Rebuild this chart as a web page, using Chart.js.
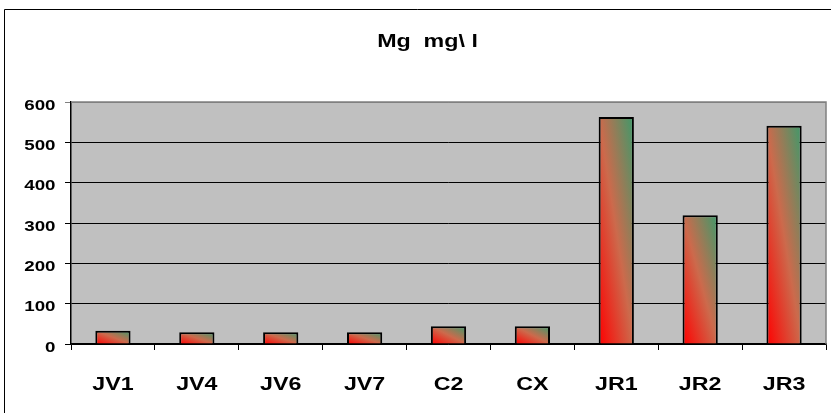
<!DOCTYPE html>
<html>
<head>
<meta charset="utf-8">
<script src="https://cdn.jsdelivr.net/npm/chart.js@4/dist/chart.umd.min.js"></script>
<style>
  html, body { margin: 0; padding: 0; background: #ffffff; }
  #wrap { width: 831px; height: 413px; }
</style>
</head>
<body>
<div id="wrap"><canvas id="c" width="831" height="413"></canvas></div>
<script>
// Magnesium concentration per sampling point
const categories = ['JV1', 'JV4', 'JV6', 'JV7', 'C2', 'CX', 'JR1', 'JR2', 'JR3'];
const mgValues = [33, 29, 29, 29, 44, 44, 563, 319, 541];
const yTickMax = 600;
const yTickStep = 100;
const chartTitle = 'Mg  mg\\ l';

const FONT = '"Liberation Sans", Arial, sans-serif';
const BAR_PCT = 0.42;
const STRETCH = 1.25; // wide lettering used for all chart text

// Diagonal red-to-green fill for each bar, bottom-left to top-right
function barGradient(ctx) {
  const chart = ctx.chart;
  const xs = chart.scales.x, ys = chart.scales.y;
  if (!xs || !ys || !chart.chartArea || ctx.dataIndex === undefined) return '#e04030';
  const cx = xs.getPixelForValue(ctx.dataIndex);
  const w = (xs.width / categories.length) * BAR_PCT;
  const left = cx - w / 2;
  const top = ys.getPixelForValue(mgValues[ctx.dataIndex]);
  const bottom = ys.getPixelForValue(0);
  const h = Math.max(bottom - top, 1);
  const L2 = w * w + h * h;
  const g = chart.ctx.createLinearGradient(
    left, bottom,
    left + 2 * w * h * h / L2, bottom - 2 * w * w * h / L2
  );
  g.addColorStop(0, '#ff0000');
  g.addColorStop(0.5, '#cc6a4c');
  g.addColorStop(1, '#3d9a6b');
  return g;
}

function wideText(ctx, text, x, y, size, align) {
  ctx.save();
  ctx.font = 'bold ' + size + 'px ' + FONT;
  ctx.fillStyle = '#000000';
  ctx.textAlign = align;
  ctx.textBaseline = 'alphabetic';
  ctx.translate(x, y);
  ctx.scale(STRETCH, 1);
  ctx.fillText(text, 0, 0);
  ctx.restore();
}

// Grey plot background, frames, title and axis labels
const framePlugin = {
  id: 'frame',
  beforeDraw(chart) {
    const { ctx, chartArea: a } = chart;
    ctx.save();
    ctx.fillStyle = '#c0c0c0';
    ctx.fillRect(a.left, a.top, a.right - a.left, a.bottom - a.top);
    ctx.restore();
  },
  afterDraw(chart) {
    const { ctx, chartArea: a } = chart;
    const xs = chart.scales.x, ys = chart.scales.y;
    ctx.save();
    // plot frame (top and right edges)
    ctx.strokeStyle = '#808080';
    ctx.lineWidth = 1.5;
    ctx.beginPath();
    ctx.moveTo(a.left, a.top);
    ctx.lineTo(a.right, a.top);
    ctx.lineTo(a.right, a.bottom);
    ctx.stroke();
    // outer frame
    ctx.strokeStyle = '#000000';
    ctx.lineWidth = 1;
    ctx.beginPath();
    ctx.moveTo(4.5, 413);
    ctx.lineTo(4.5, 9.5);
    ctx.lineTo(831, 9.5);
    ctx.stroke();
    ctx.restore();

    // title
    wideText(ctx, chartTitle, 427.5, 46.5, 18.6, 'center');
    // value axis labels
    ys.ticks.forEach((t) => {
      wideText(ctx, String(t.value), 55.5, ys.getPixelForValue(t.value) + 7.5, 15, 'right');
    });
    // category labels
    categories.forEach((c, i) => {
      wideText(ctx, c, xs.getPixelForValue(i), 390, 18.6, 'center');
    });
  }
};

new Chart(document.getElementById('c'), {
  type: 'bar',
  data: {
    labels: categories,
    datasets: [{
      label: 'Mg',
      data: mgValues,
      backgroundColor: barGradient,
      borderColor: '#000000',
      borderWidth: 2,
      categoryPercentage: 1,
      barPercentage: BAR_PCT
    }]
  },
  options: {
    responsive: false,
    animation: false,
    devicePixelRatio: 1,
    layout: { padding: { left: 0, right: 5, top: 102, bottom: 0 } },
    plugins: {
      legend: { display: false },
      tooltip: { enabled: false },
      title: { display: false }
    },
    scales: {
      x: {
        afterFit(scale) { scale.height = 69; },
        grid: {
          offset: true,
          drawOnChartArea: false,
          drawTicks: true,
          tickLength: 6,
          color: '#000000',
          lineWidth: 1
        },
        border: { display: true, color: '#000000', width: 1.5 },
        ticks: { display: false }
      },
      y: {
        min: 0,
        max: yTickMax,
        afterFit(scale) { scale.width = 71; },
        grid: {
          color: (c) => (c.tick && c.tick.value === yTickMax ? '#808080' : '#000000'),
          lineWidth: 1,
          tickLength: 6,
          drawTicks: true
        },
        border: { display: true, color: '#000000', width: 1.5 },
        ticks: { display: false, stepSize: yTickStep }
      }
    }
  },
  plugins: [framePlugin]
});
</script>
</body>
</html>
